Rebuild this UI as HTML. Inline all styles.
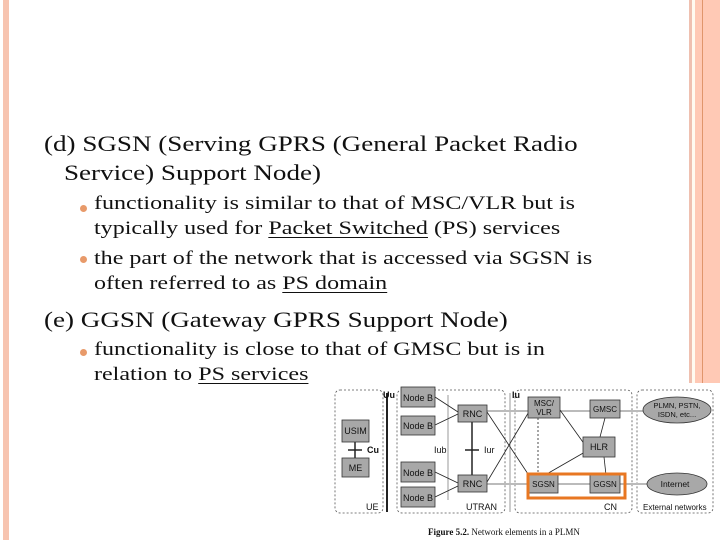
<!DOCTYPE html>
<html><head><meta charset="utf-8"><style>
html,body{margin:0;padding:0;background:#fff;}
body{width:720px;height:540px;position:relative;overflow:hidden;font-family:"Liberation Serif",serif;color:#111;}
.t{position:absolute;white-space:nowrap;transform-origin:0 0;}
.h{font-size:22px;transform:scaleX(1.23);}
.b{font-size:18.5px;transform:scaleX(1.30);}
.dot{position:absolute;width:7px;height:7px;border-radius:50%;background:#e89a6a;}
u{text-decoration-thickness:1px;text-underline-offset:3px;}
</style></head><body>
<div style="position:absolute;left:3px;top:0;width:6px;height:540px;background:#f7c4b0"></div>
<div style="position:absolute;left:689px;top:0;width:3px;height:540px;background:#efc0b0"></div>
<div style="position:absolute;left:692px;top:0;width:3px;height:540px;background:#fffaf0"></div>
<div style="position:absolute;left:695px;top:0;width:25px;height:540px;background:#ffc9b5"></div>
<div style="position:absolute;left:702px;top:0;width:1px;height:540px;background:#e0956c"></div>

<div class="t h" style="left:44px;top:131px">(d) SGSN (Serving GPRS (General Packet Radio</div>
<div class="t h" style="left:64px;top:160px">Service) Support Node)</div>
<div class="dot" style="left:80px;top:205px"></div>
<div class="t b" style="left:94px;top:194px">functionality is similar to that of MSC/VLR but is</div>
<div class="t b" style="left:94px;top:219px">typically used for <u>Packet Switched</u> (PS) services</div>
<div class="dot" style="left:80px;top:256px"></div>
<div class="t b" style="left:94px;top:249px">the part of the network that is accessed via SGSN is</div>
<div class="t b" style="left:94px;top:274px">often referred to as <u>PS domain</u></div>
<div class="t h" style="left:44px;top:307px">(e) GGSN (Gateway GPRS Support Node)</div>
<div class="dot" style="left:80px;top:349px"></div>
<div class="t b" style="left:94px;top:340px">functionality is close to that of GMSC but is in</div>
<div class="t b" style="left:94px;top:365px">relation to <u>PS services</u></div>

<svg style="position:absolute;left:0;top:0" width="720" height="540" font-family="Liberation Sans, sans-serif" font-size="9">
<rect x="333" y="383" width="387" height="157" fill="#fff"/>
<g fill="none" stroke="#555" stroke-dasharray="2,2" stroke-width="0.8">
<rect x="335" y="390" width="48" height="123" rx="5"/>
<rect x="397" y="390" width="108" height="123" rx="5"/>
<rect x="515" y="390" width="117" height="123" rx="5"/>
<rect x="637" y="390" width="76" height="123" rx="5"/>
</g>
<line x1="387" y1="393" x2="387" y2="512" stroke="#222" stroke-width="2"/>
<line x1="510" y1="393" x2="510" y2="512" stroke="#999" stroke-width="1"/>
<line x1="448" y1="395" x2="448" y2="500" stroke="#999" stroke-width="1"/>
<g stroke="#bbb" stroke-width="2">
<line x1="487" y1="411" x2="677" y2="411"/>
<line x1="487" y1="484" x2="677" y2="484"/>
</g>
<g stroke="#222" stroke-width="0.8" fill="none">
<line x1="435" y1="397" x2="458" y2="412"/>
<line x1="435" y1="425" x2="458" y2="414"/>
<line x1="435" y1="472" x2="458" y2="483"/>
<line x1="435" y1="497" x2="458" y2="486"/>
<line x1="487" y1="412" x2="530" y2="477"/>
<line x1="487" y1="482" x2="530" y2="410"/>
<line x1="560" y1="410" x2="585" y2="445"/>
<line x1="545" y1="475" x2="585" y2="452"/>
<line x1="605" y1="418" x2="600" y2="437"/>
<line x1="604" y1="457" x2="606" y2="475"/>
<line x1="538" y1="418" x2="538" y2="475" stroke-dasharray="2,2"/>
</g>
<line x1="472" y1="422" x2="472" y2="475" stroke="#222" stroke-width="1.5"/>
<line x1="465" y1="450" x2="479" y2="450" stroke="#222" stroke-width="1.5"/>
<line x1="355" y1="442" x2="355" y2="458" stroke="#222" stroke-width="1.5"/>
<line x1="348" y1="450" x2="362" y2="450" stroke="#222" stroke-width="1.5"/>
<g fill="#a8a8a8" stroke="#333" stroke-width="0.8">
<rect x="342" y="420" width="27" height="22"/>
<rect x="342" y="458" width="27" height="19"/>
<rect x="401" y="387" width="34" height="20"/>
<rect x="401" y="416" width="34" height="19"/>
<rect x="401" y="462" width="34" height="20"/>
<rect x="401" y="487" width="34" height="20"/>
<rect x="458" y="405" width="29" height="17"/>
<rect x="458" y="475" width="29" height="17"/>
<rect x="528" y="397" width="32" height="21"/>
<rect x="590" y="400" width="30" height="18"/>
<rect x="583" y="437" width="32" height="20"/>
<rect x="529" y="475" width="29" height="18"/>
<rect x="590" y="475" width="30" height="18"/>
<ellipse cx="677" cy="410" rx="34" ry="13"/>
<ellipse cx="677" cy="484" rx="30" ry="11"/>
</g>
<rect x="528" y="474" width="97" height="24" fill="none" stroke="#e87722" stroke-width="3"/>
<g fill="#111">
<text x="355.5" y="434" text-anchor="middle">USIM</text>
<text x="355.5" y="471" text-anchor="middle">ME</text>
<text x="418" y="401" text-anchor="middle">Node B</text>
<text x="418" y="429" text-anchor="middle">Node B</text>
<text x="418" y="476" text-anchor="middle">Node B</text>
<text x="418" y="501" text-anchor="middle">Node B</text>
<text x="472.5" y="417" text-anchor="middle">RNC</text>
<text x="472.5" y="487" text-anchor="middle">RNC</text>
<text x="544" y="406" text-anchor="middle" font-size="8">MSC/</text>
<text x="544" y="415" text-anchor="middle" font-size="8">VLR</text>
<text x="605" y="412" text-anchor="middle" font-size="8">GMSC</text>
<text x="599" y="450" text-anchor="middle">HLR</text>
<text x="543.5" y="487" text-anchor="middle" font-size="8">SGSN</text>
<text x="605" y="487" text-anchor="middle" font-size="8">GGSN</text>
<text x="677" y="408" text-anchor="middle" font-size="7.5">PLMN, PSTN,</text>
<text x="677" y="417" text-anchor="middle" font-size="7.5">ISDN, etc...</text>
<text x="675" y="487" text-anchor="middle" font-size="8.5">Internet</text>
<text x="383" y="398" font-weight="bold">Uu</text>
<text x="512" y="398" font-weight="bold">Iu</text>
<text x="367" y="453" font-weight="bold">Cu</text>
<text x="434" y="453">Iub</text>
<text x="484" y="453">Iur</text>
<text x="366" y="510">UE</text>
<text x="466" y="510">UTRAN</text>
<text x="604" y="510">CN</text>
<text x="643" y="510" font-size="8">External networks</text>
<text x="428" y="535" font-family="Liberation Serif, serif" font-size="9"><tspan font-weight="bold">Figure 5.2.</tspan> Network elements in a PLMN</text>
</g>
</svg>
</body></html>
